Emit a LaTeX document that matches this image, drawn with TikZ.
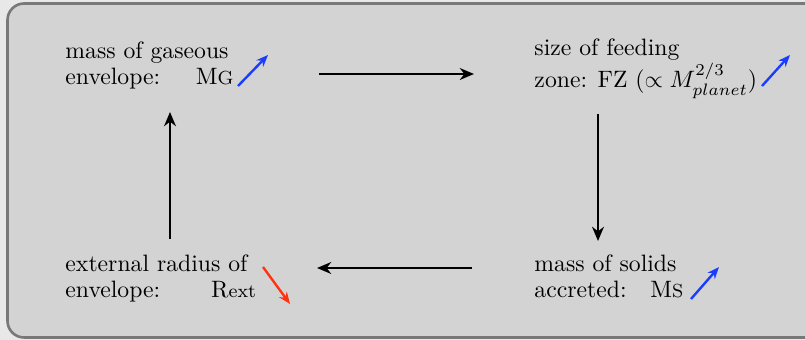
\documentclass[tikz,border=0pt]{standalone}
\usetikzlibrary{arrows.meta}
\definecolor{bgout}{HTML}{E8E8E8}
\definecolor{boxfill}{HTML}{D3D3D3}
\definecolor{boxline}{HTML}{787878}
\definecolor{upblue}{HTML}{1A3CFF}
\definecolor{downred}{HTML}{FF3311}
\tikzset{
  lbl/.style={anchor=base west, inner sep=0pt, align=left, font=\fontsize{10}{11}\selectfont},
  flow/.style={line width=1.15pt, -{Stealth[length=6pt,width=5pt]}},
  upar/.style={line width=1pt, upblue, -{Stealth[length=5pt,width=4pt]}},
  downar/.style={line width=1pt, downred, -{Stealth[length=5pt,width=4pt]}},
}
\begin{document}
\begin{tikzpicture}[x=0.422pt,y=-0.422pt]
\useasboundingbox (0,0) rectangle (805,340);
\clip (0,0) rectangle (805,340);
\fill[bgout] (0,0) rectangle (805,340);
\draw[boxline, fill=boxfill, line width=1.1pt, rounded corners=7pt] (7.5,3.5) rectangle (830,337.5);

% text blocks (anchored at the baseline of their last line)
\node[lbl] (mg) at (65,85) {mass of gaseous\\envelope:\hspace{15pt}M{\footnotesize G}};
\node[lbl] (fz) at (534,88) {size of feeding\\zone: FZ\ $(\propto M_{planet}^{2/3})$};
\node[lbl] (ms) at (534,298) {mass of solids\\accreted:\hspace{10pt}M{\footnotesize S}};
\node[lbl] (re) at (65,298) {external radius of\\envelope:\hspace{21.5pt}R{\footnotesize ext}};

% trend arrows
\coordinate (mgA) at (238,86); \coordinate (mgB) at (268,55);
\coordinate (fzA) at (762,86); \coordinate (fzB) at (790,55);
\coordinate (msA) at (691,299); \coordinate (msB) at (719,267);
\coordinate (reA) at (263,267); \coordinate (reB) at (290,304);
\draw[upar] (mgA) -- (mgB);
\draw[upar] (fzA) -- (fzB);
\draw[upar] (msA) -- (msB);
\draw[downar] (reA) -- (reB);

% flow arrows
\coordinate (t1) at (319,74); \coordinate (t2) at (474,74);
\coordinate (r1) at (598,114); \coordinate (r2) at (598,241);
\coordinate (b1) at (472,268); \coordinate (b2) at (317,268);
\coordinate (l1) at (170,239); \coordinate (l2) at (170,112);
\draw[flow] (t1) -- (t2);
\draw[flow] (r1) -- (r2);
\draw[flow] (b1) -- (b2);
\draw[flow] (l1) -- (l2);
\end{tikzpicture}
\end{document}
